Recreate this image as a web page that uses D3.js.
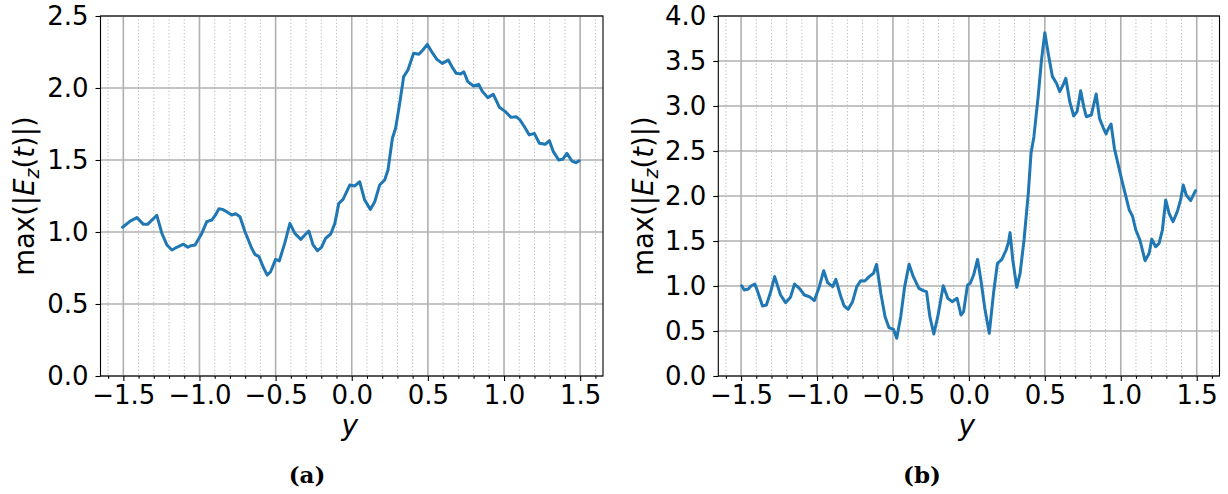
<!DOCTYPE html>
<html>
<head>
<meta charset="utf-8">
<script src="https://cdn.jsdelivr.net/npm/d3@7"></script>
<style>
  html, body { margin: 0; padding: 0; background: #fff; }
  svg { display: block; }
  .tick text { font-family: "DejaVu Sans", sans-serif; }
</style>
</head>
<body>
<svg id="chart" width="1228" height="494"></svg>
<script>
// ---- data ----
const yPosA = [-1.505,-1.455,-1.411,-1.368,-1.341,-1.28,-1.247,-1.214,-1.181,-1.149,-1.105,-1.077,-1.055,-1.029,-0.985,-0.952,-0.919,-0.898,-0.872,-0.85,-0.821,-0.788,-0.762,-0.734,-0.701,-0.657,-0.636,-0.609,-0.581,-0.555,-0.533,-0.5,-0.476,-0.439,-0.406,-0.374,-0.334,-0.308,-0.282,-0.254,-0.225,-0.199,-0.172,-0.138,-0.111,-0.085,-0.057,-0.013,0.02,0.052,0.085,0.122,0.151,0.183,0.216,0.238,0.267,0.288,0.315,0.341,0.369,0.406,0.441,0.467,0.496,0.529,0.559,0.594,0.634,0.66,0.686,0.714,0.736,0.762,0.8,0.834,0.856,0.893,0.93,0.97,1.009,1.046,1.079,1.105,1.134,1.166,1.199,1.232,1.271,1.298,1.324,1.359,1.385,1.413,1.446,1.472,1.494];
const maxEzA = [1.033,1.076,1.10,1.053,1.053,1.116,0.99,0.91,0.875,0.894,0.915,0.894,0.905,0.91,0.99,1.072,1.083,1.113,1.162,1.157,1.141,1.118,1.127,1.106,1.002,0.887,0.845,0.829,0.755,0.701,0.724,0.81,0.799,0.926,1.06,0.99,0.949,0.979,1.007,0.91,0.87,0.894,0.956,0.986,1.06,1.199,1.227,1.326,1.32,1.349,1.222,1.157,1.21,1.326,1.361,1.431,1.651,1.72,1.894,2.079,2.125,2.241,2.234,2.264,2.303,2.245,2.199,2.171,2.194,2.144,2.102,2.097,2.113,2.044,2.014,2.025,1.979,1.933,1.956,1.866,1.836,1.796,1.801,1.778,1.731,1.674,1.685,1.616,1.609,1.634,1.558,1.5,1.505,1.546,1.493,1.481,1.495];

const yPosB = [-1.496,-1.479,-1.452,-1.435,-1.409,-1.387,-1.359,-1.333,-1.305,-1.279,-1.24,-1.207,-1.175,-1.148,-1.116,-1.083,-1.05,-1.018,-0.985,-0.956,-0.93,-0.897,-0.876,-0.843,-0.821,-0.795,-0.766,-0.738,-0.712,-0.685,-0.657,-0.628,-0.608,-0.58,-0.552,-0.526,-0.497,-0.475,-0.449,-0.423,-0.394,-0.366,-0.329,-0.3,-0.279,-0.257,-0.231,-0.205,-0.169,-0.139,-0.11,-0.078,-0.052,-0.035,-0.009,0.009,0.031,0.057,0.079,0.105,0.134,0.162,0.188,0.217,0.245,0.26,0.271,0.289,0.315,0.337,0.363,0.391,0.409,0.428,0.456,0.478,0.5,0.522,0.55,0.577,0.598,0.62,0.638,0.664,0.69,0.712,0.736,0.757,0.773,0.806,0.838,0.86,0.886,0.903,0.914,0.936,0.958,0.986,1.012,1.034,1.056,1.077,1.099,1.126,1.16,1.187,1.204,1.23,1.252,1.274,1.296,1.318,1.344,1.372,1.394,1.411,1.431,1.46,1.492];
const maxEzB = [1.003,0.956,0.967,1.0,1.022,0.919,0.778,0.789,0.937,1.104,0.9,0.815,0.874,1.022,0.974,0.9,0.881,0.837,0.993,1.17,1.037,0.993,1.074,0.881,0.778,0.741,0.826,0.993,1.059,1.056,1.104,1.141,1.241,0.919,0.659,0.537,0.519,0.419,0.659,0.993,1.241,1.104,0.974,0.948,0.937,0.659,0.467,0.659,1.003,0.863,0.826,0.863,0.678,0.715,1.011,1.03,1.122,1.296,1.067,0.75,0.474,0.919,1.252,1.296,1.4,1.481,1.593,1.289,0.985,1.141,1.511,2.03,2.474,2.659,3.104,3.511,3.815,3.585,3.326,3.252,3.159,3.233,3.307,3.048,2.889,2.937,3.17,2.985,2.881,2.9,3.133,2.863,2.752,2.689,2.733,2.8,2.53,2.326,2.141,1.993,1.844,1.778,1.622,1.511,1.281,1.363,1.519,1.437,1.474,1.622,1.956,1.807,1.715,1.826,1.956,2.122,2.011,1.948,2.059];

const xTickValues = [-1.5,-1.0,-0.5,0.0,0.5,1.0,1.5];
const yTicksA = [0.0,0.5,1.0,1.5,2.0,2.5];
const yTicksB = [0.0,0.5,1.0,1.5,2.0,2.5,3.0,3.5,4.0];
const captions = ["(a)", "(b)"];

// ---- drawing ----
const svg = d3.select("#chart");
const plotTop = 16, plotBottom = 376;
const fmt = v => d3.format(".1f")(v).replace("-", "\u2212");
const minorVals = d3.range(-16, 17).map(i => i / 10).filter(v => Math.abs(v * 2 - Math.round(v * 2)) > 1e-6);

const panels = [
  { left: 100.5, right: 603, xs: yPosA, vs: maxEzA, yMax: 2.5, yTicks: yTicksA, cap: captions[0], capX: 307, labelX: 24 },
  { left: 718.3, right: 1219.5, xs: yPosB, vs: maxEzB, yMax: 4.0, yTicks: yTicksB, cap: captions[1], capX: 922, labelX: 642.5 }
];

panels.forEach(p => {
  const x = d3.scaleLinear().domain([-1.65, 1.65]).range([p.left, p.right]);
  const y = d3.scaleLinear().domain([0, p.yMax]).range([plotBottom, plotTop]);
  const g = svg.append("g");

  // minor dotted vertical grid
  g.append("g").selectAll("line").data(minorVals).join("line")
    .attr("x1", d => x(d)).attr("x2", d => x(d))
    .attr("y1", plotTop).attr("y2", plotBottom)
    .attr("stroke", "#b0b0b0").attr("stroke-width", 0.9)
    .attr("stroke-dasharray", "1.2,2.2");

  // major grid
  g.append("g").selectAll("line").data(xTickValues).join("line")
    .attr("x1", d => x(d)).attr("x2", d => x(d))
    .attr("y1", plotTop).attr("y2", plotBottom)
    .attr("stroke", "#b0b0b0").attr("stroke-width", 1.6);
  g.append("g").selectAll("line").data(p.yTicks).join("line")
    .attr("x1", p.left).attr("x2", p.right)
    .attr("y1", d => y(d)).attr("y2", d => y(d))
    .attr("stroke", "#b0b0b0").attr("stroke-width", 1.6);

  // data line
  const pts = p.xs.map((d, i) => [d, p.vs[i]]);
  g.append("path").datum(pts)
    .attr("d", d3.line().x(d => x(d[0])).y(d => y(d[1])))
    .attr("fill", "none").attr("stroke", "#1f77b4")
    .attr("stroke-width", 3).attr("stroke-linejoin", "round").attr("stroke-linecap", "round");

  // frame
  g.append("rect").attr("x", p.left).attr("y", plotTop)
    .attr("width", p.right - p.left).attr("height", plotBottom - plotTop)
    .attr("fill", "none").attr("stroke", "#000").attr("stroke-width", 1.1);

  // x axis (major)
  const xAx = g.append("g").attr("transform", `translate(0,${plotBottom})`)
    .call(d3.axisBottom(x).tickValues(xTickValues).tickSize(5).tickPadding(5).tickFormat(fmt));
  // minor x ticks
  const xMin = g.append("g").attr("transform", `translate(0,${plotBottom})`)
    .call(d3.axisBottom(x).tickValues(minorVals).tickSize(2.8).tickFormat(""));
  // y axis
  const yAx = g.append("g").attr("transform", `translate(${p.left},0)`)
    .call(d3.axisLeft(y).tickValues(p.yTicks).tickSize(5).tickPadding(7).tickFormat(fmt));

  [xAx, xMin, yAx].forEach(a => {
    a.select(".domain").remove();
    a.selectAll(".tick line").attr("stroke", "#000").attr("stroke-width", 1.1);
    a.selectAll(".tick text").attr("font-size", 26).attr("fill", "#000");
  });

  // x label
  g.append("text").attr("x", (p.left + p.right) / 2 - 2).attr("y", 435)
    .attr("text-anchor", "middle")
    .attr("font-family", "DejaVu Sans").attr("font-style", "italic").attr("font-size", 28)
    .text("y");

  // y label
  const yl = g.append("text")
    .attr("transform", `translate(${p.labelX + 10},${(plotTop + plotBottom) / 2}) rotate(-90)`)
    .attr("text-anchor", "middle")
    .attr("font-family", "DejaVu Sans").attr("font-size", 27.5);
  yl.append("tspan").text("max(|");
  yl.append("tspan").attr("font-style", "italic").text("E");
  yl.append("tspan").attr("font-style", "italic").attr("font-size", 19).attr("dy", 5).text("z");
  yl.append("tspan").attr("dy", -5).text("(");
  yl.append("tspan").attr("font-style", "italic").text("t");
  yl.append("tspan").text(")|)");

  // caption
  g.append("text").attr("x", p.capX).attr("y", 483).attr("text-anchor", "middle")
    .attr("font-family", "DejaVu Serif").attr("font-weight", "bold").attr("font-size", 23)
    .text(p.cap);
});
</script>
</body>
</html>
